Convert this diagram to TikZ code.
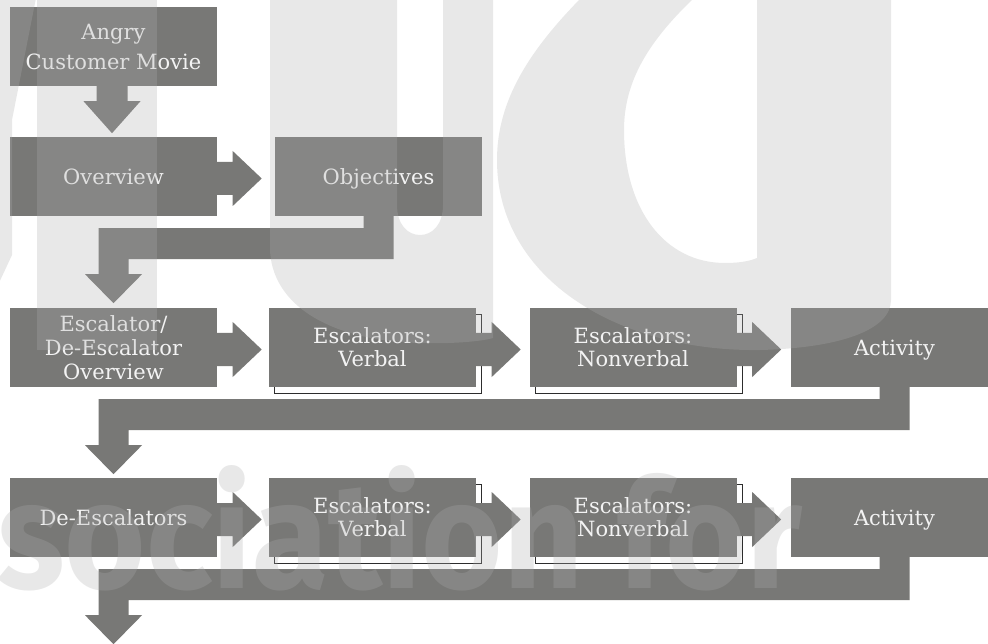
\documentclass[tikz,border=0pt]{standalone}
\usepackage{fontspec}
\usepackage{graphicx}
\usetikzlibrary{calc}
\newfontfamily\boxfont{DejaVu Serif}
\newfontfamily\wmfont{Fira Sans}
\definecolor{boxgray}{RGB}{120,120,118}
\definecolor{labelwhite}{RGB}{243,243,243}
\definecolor{wmgray}{RGB}{173,173,173}
\definecolor{edgeblack}{RGB}{45,45,45}

% fat right-pointing arrow leaving the east side of a stage box
\newcommand\fatright[1]{%
  \fill[flow] ($(#1.east)+(-1,-14.5)$) -- ++(16.5,0) -- ++(0,-11) -- ++(29,27.5)
    -- ++(-29,27.5) -- ++(0,-11) -- ++(-16.5,0) -- cycle;}
% fat arrow from the bottom of one box, along a band, down to the next row
\newcommand\fatbend[2]{%
  \fill[flow] ($(#1.south)+(-15,-1)$) -- ($(#1.south)+(15,-1)$)
    -- ($(#1.south)+(15,43)$) -- ($(#2 |- #1.south)+(15,43)$)
    -- ($(#2 |- #1.south)+(15,58)$) -- ($(#2 |- #1.south)+(28.5,58)$)
    -- ($(#2 |- #1.south)+(0,87)$) -- ($(#2 |- #1.south)+(-28.5,58)$)
    -- ($(#2 |- #1.south)+(-15,58)$) -- ($(#2 |- #1.south)+(-15,12)$)
    -- ($(#1.south)+(-15,12)$) -- cycle;}

\begin{document}
\begin{tikzpicture}[x=1pt,y=-1pt,
  stage/.style={rectangle, fill=boxgray, minimum width=207pt, minimum height=79pt,
    inner sep=0pt, text=labelwhite, align=center, text depth=0pt,
    font=\boxfont\fontsize{21}{23}\selectfont},
  backing/.style={rectangle, fill=white, draw=edgeblack, line width=1pt,
    minimum width=207pt, minimum height=79pt, inner sep=0pt},
  flow/.style={fill=boxgray},
  wm/.style={fill=wmgray, fill opacity=0.28, draw=none, even odd rule}]

\useasboundingbox (0,0) rectangle (988,644);
\fill[white] (0,0) rectangle (988,644);

% outlined cards behind the escalator boxes
\node[backing] (v1b) at (378,354) {};
\node[backing] (n1b) at (638.5,354) {};
\node[backing] (v2b) at (378,524) {};
\node[backing] (n2b) at (638.5,524) {};

% stage boxes
\node[stage, font=\boxfont\fontsize{21}{30}\selectfont] (movie) at (113.5,46.5) {Angry\\Customer Movie};
\node[stage] (over) at (113.5,176.5) {Overview};
\node[stage] (obj) at (378.5,176.5) {Objectives};

\node[stage, font=\boxfont\fontsize{21}{24}\selectfont] (esc) at (113.5,347.5) {Escalator/\\De-Escalator\\Overview};
\node[stage] (verb1) at (372.5,347.5) {Escalators:\\Verbal};
\node[stage] (nonv1) at (633,347.5) {Escalators:\\Nonverbal};
\node[stage] (act1) at (894.5,347.5) {Activity};

\node[stage] (desc) at (113.5,517.5) {De-Escalators};
\node[stage] (verb2) at (372.5,517.5) {Escalators:\\Verbal};
\node[stage] (nonv2) at (633,517.5) {Escalators:\\Nonverbal};
\node[stage] (act2) at (894.5,517.5) {Activity};

\coordinate (exit) at (113.5,660);

% connectors
\fill[flow] ($(movie.south)+(-17,-1)$) -- ++(31,0) -- ++(0,16) -- ++(13,0)
  -- ++(-28.5,32) -- ++(-28.5,-32) -- ++(13,0) -- cycle;
\fatright{over}
\fatbend{obj}{esc}
\fatright{esc}
\fatright{verb1}
\fatright{nonv1}
\fatbend{act1}{desc}
\fatright{desc}
\fatright{verb2}
\fatright{nonv2}
\fatbend{act2}{exit}

% faint lettering laid over the page
\fill[wm] (-2,-2) -- (36,-2) -- (12,120) -- (12,255) -- (-2,285) -- cycle;
\fill[wm] (37,-2) rectangle (157,350);
\fill[wm] (270,-2) -- (270,250) .. controls (272,300) and (320,335) .. (400,342)
  .. controls (440,345) and (480,342) .. (493,338) -- (493,-2) -- cycle
  (397,-2) -- (397,205) .. controls (397,225) and (408,235) .. (420,235)
  .. controls (432,235) and (443,225) .. (443,205) -- (443,-2) -- cycle;
\fill[wm] (581,-2) .. controls (530,50) and (497,100) .. (497,160)
  .. controls (497,280) and (620,352) .. (760,350)
  .. controls (840,348) and (891,330) .. (891,300) -- (891,-2) -- cycle
  (694,-2) .. controls (650,40) and (624,80) .. (624,130)
  .. controls (624,210) and (665,263) .. (725,263)
  .. controls (740,263) and (750,261) .. (757,258) -- (757,-2) -- cycle;
\node[anchor=base west, inner sep=0pt, text=wmgray, opacity=0.28] (wmtext) at (-3,588)
  {\resizebox{805pt}{123pt}{\wmfont\bfseries sociation for}};
\end{tikzpicture}
\end{document}
